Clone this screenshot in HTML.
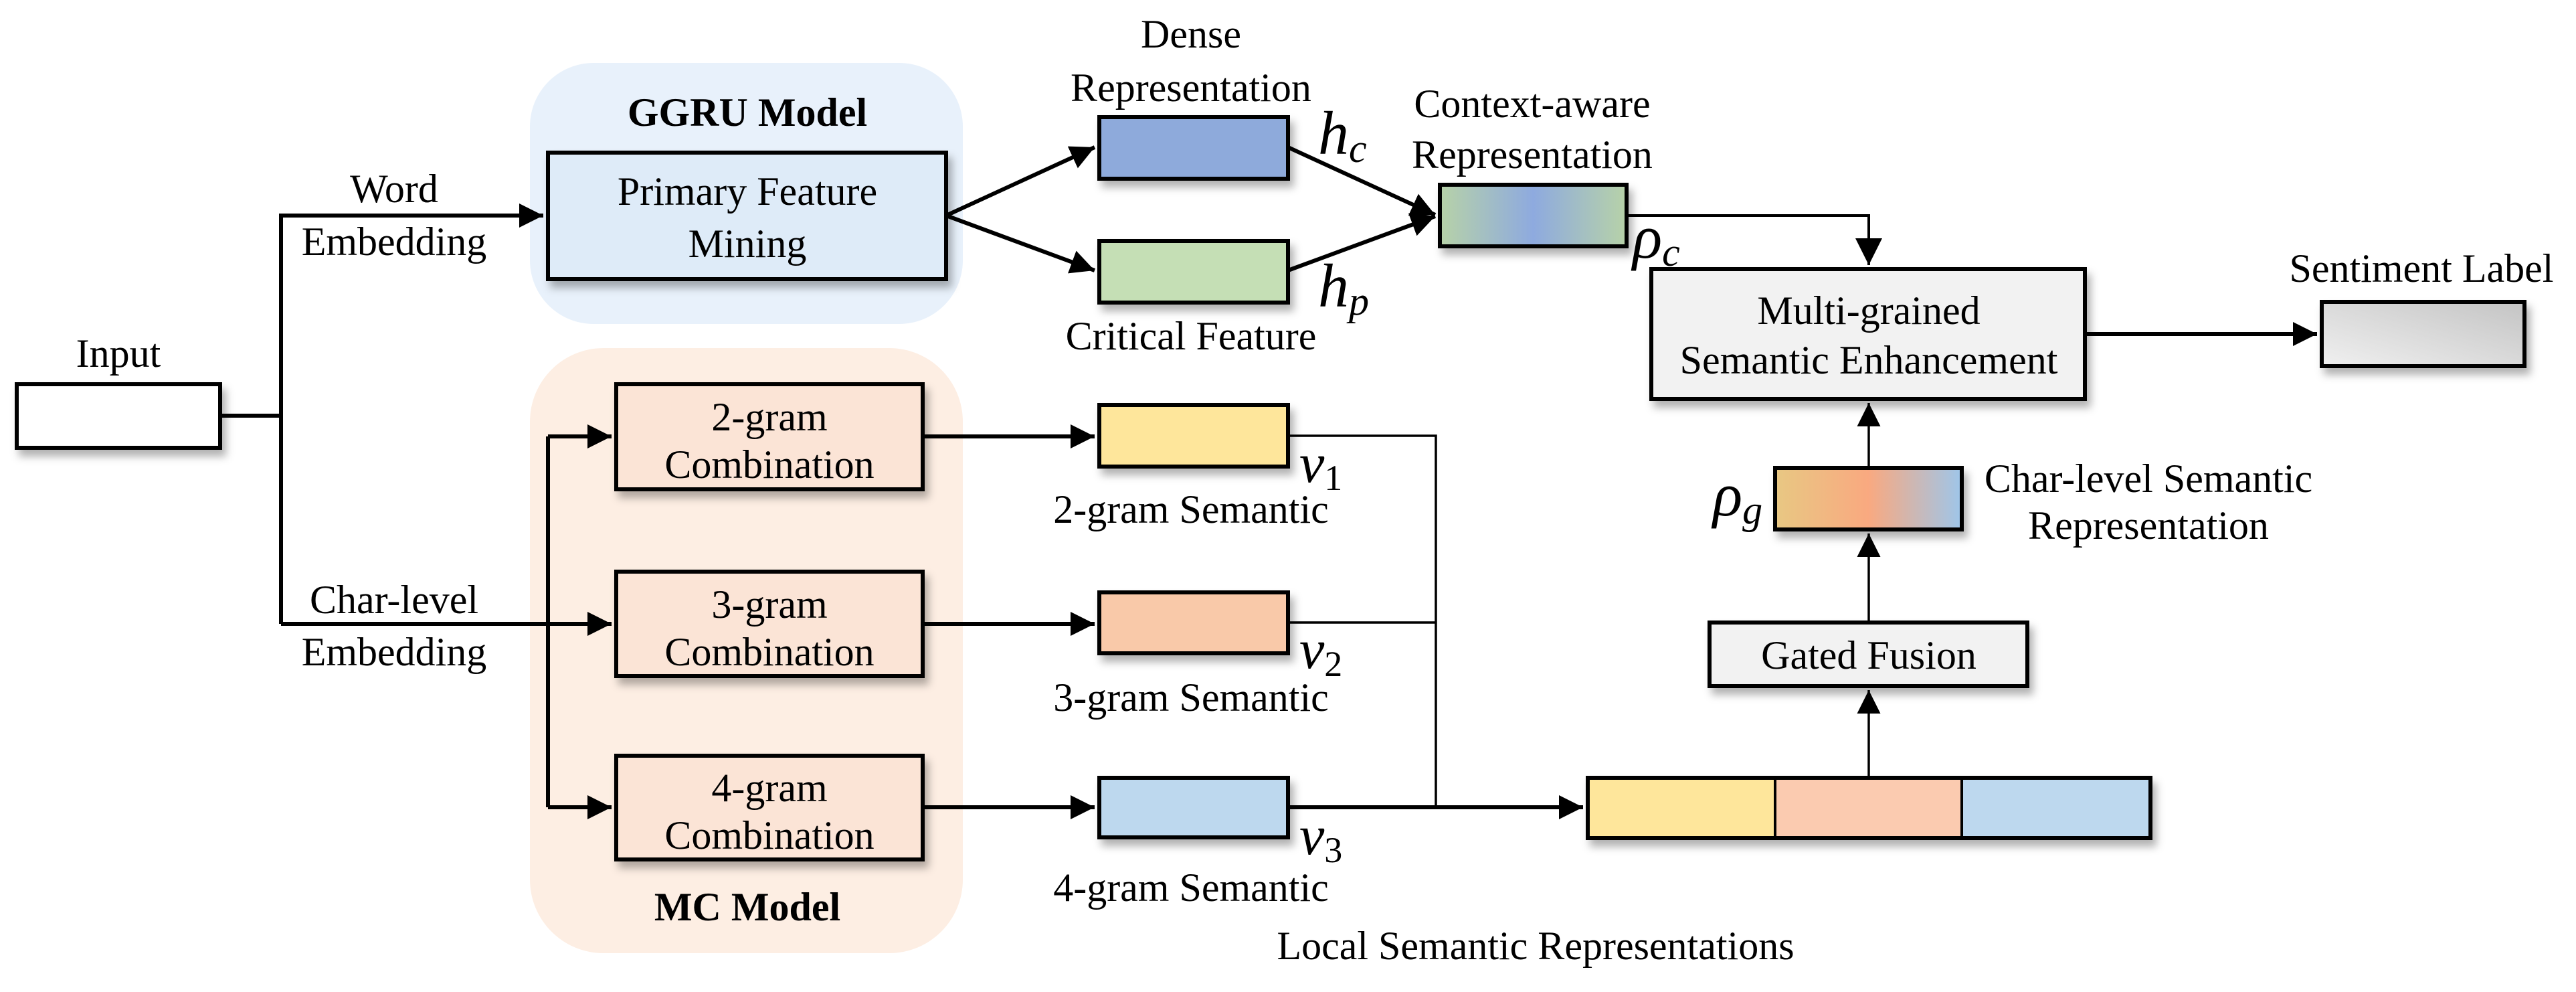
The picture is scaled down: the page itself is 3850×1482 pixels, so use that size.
<!DOCTYPE html>
<html><head><meta charset="utf-8"><style>
html,body{margin:0;padding:0;background:#fff;}
svg{display:block;}
</style></head><body>
<svg width="3850" height="1482" viewBox="0 0 3850 1482" xmlns="http://www.w3.org/2000/svg">
<defs>
<filter id="sh" x="-10%" y="-10%" width="130%" height="150%">
<feDropShadow dx="6" dy="10" stdDeviation="6" flood-color="#000" flood-opacity="0.3"/>
</filter>
<linearGradient id="gc" x1="0" x2="1" y1="0" y2="0">
<stop offset="0" stop-color="#b7d2a8"/><stop offset="0.5" stop-color="#8eaadf"/><stop offset="1" stop-color="#b7d2a8"/>
</linearGradient>
<linearGradient id="gg" x1="0" x2="1" y1="0" y2="0">
<stop offset="0" stop-color="#e8c883"/><stop offset="0.5" stop-color="#f9a980"/><stop offset="1" stop-color="#9ec6ea"/>
</linearGradient>
<linearGradient id="gs" x1="0" x2="1" y1="1" y2="0">
<stop offset="0" stop-color="#f0f0f0"/><stop offset="1" stop-color="#c4c4c4"/>
</linearGradient>
<marker id="ar" viewBox="0 0 10 10" refX="10" refY="5" markerWidth="6" markerHeight="6" markerUnits="strokeWidth" orient="auto">
<path d="M0,0 L10,5 L0,10 z" fill="#000"/>
</marker>
<marker id="ar2" viewBox="0 0 10 10" refX="10" refY="5" markerWidth="10" markerHeight="10" markerUnits="strokeWidth" orient="auto">
<path d="M0,0 L10,5 L0,10 z" fill="#000"/>
</marker>
</defs>

<rect x="792" y="94" width="647" height="390" rx="95" fill="#e8f1fb"/>
<rect x="792" y="520" width="647" height="904" rx="110" fill="#fdeee3"/>

<g stroke="#000" fill="none" stroke-width="6">
<polyline points="329,621 420,621"/>
<polyline points="420,932 420,322 812,322" marker-end="url(#ar)"/>
<polyline points="420,932 914,932" marker-end="url(#ar)"/>
<polyline points="819,652 819,1206"/>
<polyline points="819,652 914,652" marker-end="url(#ar)"/>
<polyline points="819,1206 914,1206" marker-end="url(#ar)"/>
<polyline points="1414,322 1636,220" marker-end="url(#ar)"/>
<polyline points="1414,322 1636,404" marker-end="url(#ar)"/>
<polyline points="1379,652 1636,652" marker-end="url(#ar)"/>
<polyline points="1379,932 1636,932" marker-end="url(#ar)"/>
<polyline points="1379,1206 1636,1206" marker-end="url(#ar)"/>
<polyline points="1925,220 2145,321" marker-end="url(#ar)"/>
<polyline points="1925,404 2145,323" marker-end="url(#ar)"/>
<polyline points="2431,322 2793,322 2793,396" stroke-width="4" marker-end="url(#ar2)"/>
<polyline points="3116,499 3463,499" marker-end="url(#ar)"/>
<polyline points="1925,1206 2366,1206" marker-end="url(#ar)"/>
</g>
<g stroke="#000" fill="none" stroke-width="3.5">
<polyline points="1925,651 2146,651 2146,1206"/>
<polyline points="1925,930 2146,930"/>
<polyline points="2793,699 2793,602" marker-end="url(#ar2)"/>
<polyline points="2793,930 2793,797" marker-end="url(#ar2)"/>
<polyline points="2793,1162 2793,1031" marker-end="url(#ar2)"/>
</g>

<g stroke="#000" stroke-width="6" filter="url(#sh)">
<rect x="25" y="574" width="304" height="95" fill="#fff"/>
<rect x="819" y="228" width="595" height="189" fill="#deebf8"/>
<rect x="921" y="574" width="458" height="157" fill="#fbe4d6"/>
<rect x="921" y="854" width="458" height="156" fill="#fbe4d6"/>
<rect x="921" y="1129" width="458" height="155" fill="#fbe4d6"/>
<rect x="1643" y="175" width="282" height="92" fill="#8eaadb"/>
<rect x="1643" y="360" width="282" height="92" fill="#c5dfb5"/>
<rect x="1643" y="605" width="282" height="92" fill="#fee69b"/>
<rect x="1643" y="885" width="282" height="91" fill="#f9c9a9"/>
<rect x="1643" y="1162" width="282" height="89" fill="#bdd8ee"/>
<rect x="2152" y="276" width="279" height="92" fill="url(#gc)"/>
<rect x="2468" y="402" width="648" height="194" fill="#f2f2f2"/>
<rect x="3470" y="451" width="303" height="96" fill="url(#gs)"/>
<rect x="2653" y="699" width="279" height="92" fill="url(#gg)"/>
<rect x="2555" y="930" width="475" height="95" fill="#f2f2f2"/>
<rect x="2373" y="1162" width="841" height="90" fill="#bdd8ee"/>
</g>
<rect x="2376" y="1165" width="277" height="84" fill="#fee69b"/>
<rect x="2653" y="1165" width="279" height="84" fill="#fbcbb0"/>
<line x1="2653" y1="1162" x2="2653" y2="1252" stroke="#000" stroke-width="4"/>
<line x1="2932" y1="1162" x2="2932" y2="1252" stroke="#000" stroke-width="4"/>
<rect x="2373" y="1162" width="841" height="90" fill="none" stroke="#000" stroke-width="6"/>

<g font-family="'Liberation Serif', 'DejaVu Serif', serif" font-size="60" text-anchor="middle" fill="#000">
<text x="177" y="548">Input</text>
<text x="589" y="302">Word</text>
<text x="589" y="381">Embedding</text>
<text x="589" y="916">Char-level</text>
<text x="589" y="994">Embedding</text>
<text x="1117" y="188" font-weight="bold">GGRU Model</text>
<text x="1117" y="306">Primary Feature</text>
<text x="1117" y="384">Mining</text>
<text x="1150" y="643">2-gram</text>
<text x="1150" y="714">Combination</text>
<text x="1150" y="923">3-gram</text>
<text x="1150" y="994">Combination</text>
<text x="1150" y="1197">4-gram</text>
<text x="1150" y="1268">Combination</text>
<text x="1117" y="1375" font-weight="bold">MC Model</text>
<text x="1780" y="71">Dense</text>
<text x="1780" y="151">Representation</text>
<text x="1780" y="522">Critical Feature</text>
<text x="1780" y="781">2-gram Semantic</text>
<text x="1780" y="1062">3-gram Semantic</text>
<text x="1780" y="1346">4-gram Semantic</text>
<text x="2290" y="175">Context-aware</text>
<text x="2290" y="251">Representation</text>
<text x="2793" y="484">Multi-grained</text>
<text x="2793" y="558">Semantic Enhancement</text>
<text x="3619" y="421">Sentiment Label</text>
<text x="3211" y="735">Char-level Semantic</text>
<text x="3211" y="805">Representation</text>
<text x="2793" y="999">Gated Fusion</text>
<text x="2295" y="1433">Local Semantic Representations</text>
</g>

<g font-family="'Liberation Serif', 'DejaVu Serif', serif" font-style="italic" fill="#000">
<text x="1970" y="230" font-size="92">h<tspan font-size="60" dy="12">c</tspan></text>
<text x="1970" y="458" font-size="92">h<tspan font-size="60" dy="12">p</tspan></text>
<text x="2440" y="385" font-size="92">ρ<tspan font-size="60" dy="12">c</tspan></text>
<text x="2560" y="770" font-size="92">ρ<tspan font-size="60" dy="12">g</tspan></text>
<text x="1942" y="720" font-size="84">v<tspan font-size="54" font-style="normal" dy="12">1</tspan></text>
<text x="1942" y="998" font-size="84">v<tspan font-size="54" font-style="normal" dy="12">2</tspan></text>
<text x="1942" y="1276" font-size="84">v<tspan font-size="54" font-style="normal" dy="12">3</tspan></text>
</g>
</svg>
</body></html>
